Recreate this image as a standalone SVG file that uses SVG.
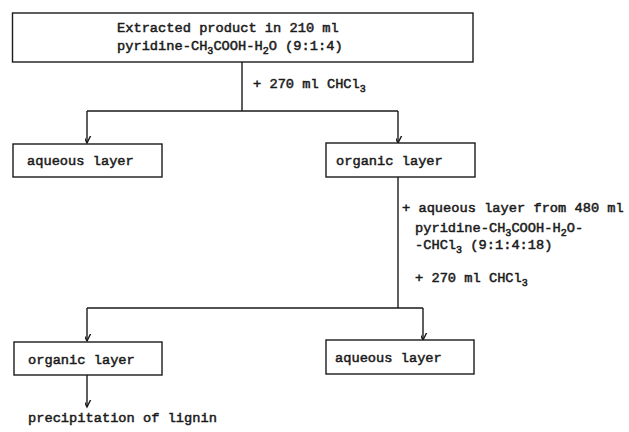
<svg xmlns="http://www.w3.org/2000/svg" width="629" height="432" viewBox="0 0 629 432">
<defs>
<style>
.box{fill:#fff;stroke:#1a1a1a;stroke-width:1.4}
.ln{fill:none;stroke:#1a1a1a;stroke-width:1.4}
text{font-family:"Liberation Mono","Courier New",monospace;font-size:13.7px;fill:#1a1a1a;stroke:#1a1a1a;stroke-width:0.5}
.sub{font-size:10px}
</style>
<marker id="ah" viewBox="-7 -12 14 14" refX="0" refY="0" markerWidth="14" markerHeight="14" markerUnits="userSpaceOnUse" orient="auto-start-reverse">
<path d="M-5.5,-11 L0,0 L5.5,-11" fill="none" stroke="#1a1a1a" stroke-width="1.4" transform="rotate(-90)"/>
</marker>
</defs>
<rect width="629" height="432" fill="#fff"/>
<g id="connectors">
<path class="ln" d="M242,62 V111 M87,111 H398"/>
<path class="ln" d="M87,111 V143" marker-end="url(#ah)"/>
<path class="ln" d="M398,111 V143" marker-end="url(#ah)"/>
<path class="ln" d="M398,177 V308 M87,308 H423"/>
<path class="ln" d="M87,308 V341" marker-end="url(#ah)"/>
<path class="ln" d="M423,308 V340" marker-end="url(#ah)"/>
<path class="ln" d="M87,375 V407" marker-end="url(#ah)"/>
<text x="253" y="88">+ 270 ml CHCl<tspan class="sub" dy="4">3</tspan></text>
<text x="402" y="212">+ aqueous layer from 480 ml</text>
<text x="415" y="232">pyridine-CH<tspan class="sub" dy="4">3</tspan><tspan dy="-4">COOH-H</tspan><tspan class="sub" dy="4">2</tspan><tspan dy="-4">O-</tspan></text>
<text x="415" y="249">-CHCl<tspan class="sub" dy="4">3</tspan><tspan dy="-4"> (9:1:4:18)</tspan></text>
<text x="415" y="282">+ 270 ml CHCl<tspan class="sub" dy="4">3</tspan></text>
</g>
<g id="n-start">
<rect class="box" x="12.5" y="13" width="460.5" height="49"/>
<text x="117" y="32">Extracted product in 210 ml</text>
<text x="117" y="50">pyridine-CH<tspan class="sub" dy="4">3</tspan><tspan dy="-4">COOH-H</tspan><tspan class="sub" dy="4">2</tspan><tspan dy="-4">O (9:1:4)</tspan></text>
</g>
<g id="n-aq1">
<rect class="box" x="13" y="144" width="149" height="33"/>
<text x="27" y="165">aqueous layer</text>
</g>
<g id="n-org1">
<rect class="box" x="326" y="143" width="149" height="34"/>
<text x="336" y="165">organic layer</text>
</g>
<g id="n-org2">
<rect class="box" x="14" y="342" width="148" height="33"/>
<text x="28" y="364">organic layer</text>
</g>
<g id="n-aq2">
<rect class="box" x="326" y="340" width="148" height="34"/>
<text x="335" y="362">aqueous layer</text>
</g>
<g id="n-prec">
<text x="28" y="422">precipitation of lignin</text>
</g>
</svg>
